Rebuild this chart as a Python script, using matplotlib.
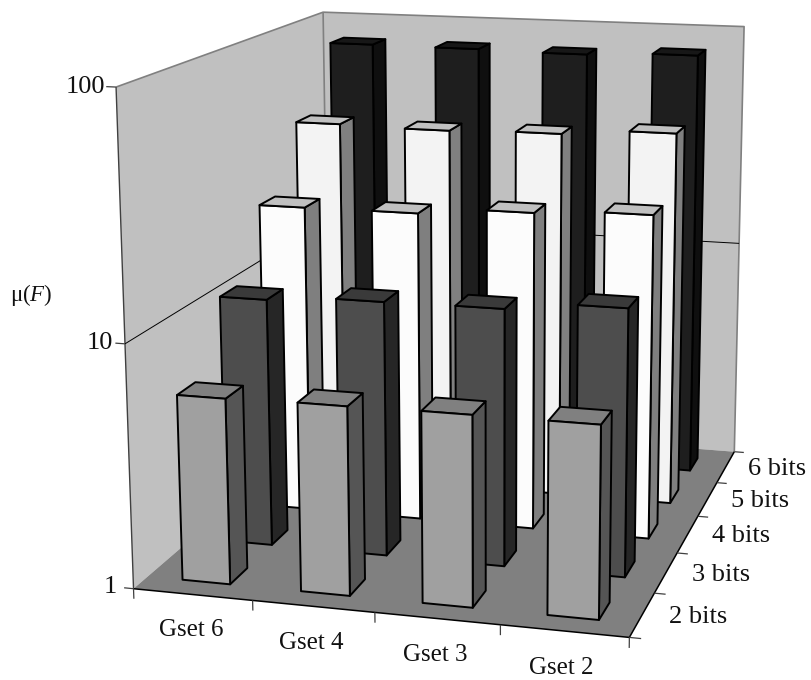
import numpy as np
import matplotlib
matplotlib.use("Agg")
import matplotlib.pyplot as plt
from mpl_toolkits.mplot3d import proj3d
from mpl_toolkits.mplot3d.art3d import Poly3DCollection

plt.rcParams['font.family'] = ['Liberation Serif', 'DejaVu Serif']
plt.rcParams['mathtext.fontset'] = 'custom'
plt.rcParams['mathtext.it'] = 'Liberation Serif:italic'
plt.rcParams['mathtext.rm'] = 'Liberation Serif'

# ---- data -------------------------------------------------------------
gsets = ['Gset 6', 'Gset 4', 'Gset 3', 'Gset 2']
bits = ['2 bits', '3 bits', '4 bits', '5 bits', '6 bits']
mu_2bits = [5.83, 5.92, 5.98, 5.98]
mu_3bits = [11.2, 11.8, 11.9, 12.9]
mu_4bits = [21.7, 21.8, 23.3, 24.3]
mu_5bits = [41.2, 40.6, 41.4, 43.8]
mu_6bits = [80.0, 79.6, 78.5, 81.0]
series = [mu_2bits, mu_3bits, mu_4bits, mu_5bits, mu_6bits]
z_ticks = [1, 10, 100]
z_labels = ['1', '10', '100']
z_label_x = [-0.14, -0.10, -0.085]

# ---- styles (front, right side, top) -----------------------------------
face_colors = [
    ('#a0a0a0', '#555555', '#808080'),
    ('#4d4d4d', '#262626', '#3a3a3a'),
    ('#fcfcfc', '#7f7f7f', '#c0c0c0'),
    ('#f3f3f3', '#808080', '#c0c0c0'),
    ('#1e1e1e', '#0f0f0f', '#171717'),
]
bar_dx = 0.405
bar_dy = 0.40
FS = 18

# ---- camera: calibrated on the chart's box (world x, y, log10 z -> pixel)
W, H = 811, 680
box_world = np.array([
    [0, 0, 0], [4, 0, 0], [4, 5, 0], [0, 5, 0],
    [0, 0, 2], [0, 5, 2], [4, 5, 2], [0, 0, 1], [4, 5, 1]], float)
box_pixel = np.array([
    [132, 589], [630, 637], [734, 452], [331, 420],
    [117, 88], [322, 12], [745, 26], [125, 343], [738, 244]], float)
rows, rhs = [], []
for (X, Y, Z), (u, v) in zip(box_world, box_pixel):
    v = H - v
    rows.append([X, Y, Z, 1, 0, 0, 0, 0, -u * X, -u * Y, -u * Z]); rhs.append(u)
    rows.append([0, 0, 0, 0, X, Y, Z, 1, -v * X, -v * Y, -v * Z]); rhs.append(v)
p = np.linalg.lstsq(np.array(rows), np.array(rhs), rcond=None)[0]
M = np.array([
    [p[0], p[1], p[2], p[3]],
    [p[4], p[5], p[6], p[7]],
    [0, 0, 0, -1.0],
    [p[8], p[9], p[10], 1.0]])

fig = plt.figure(figsize=(W / 100, H / 100), dpi=100, facecolor='white')
ax = fig.add_axes([0, -(W - H) / 2 / H, 1, W / H], projection='3d',
                  computed_zorder=False, proj_type='ortho')
ax.set_axis_off()
ax.set_xticks([])
ax.set_yticks([])
ax.set_zticks([])
ax.get_proj = lambda: M
ax.viewLim.intervalx = (0, W)
ax.viewLim.intervaly = (-(W - H) / 2, H + (W - H) / 2)

nx, ny, zt = len(gsets), len(bits), np.log10(z_ticks[-1])


def flat(verts, color, z):
    ax.add_collection3d(Poly3DCollection([verts], facecolors=color,
                                         edgecolors='none', zorder=z))


flat([(0, 0, 0), (0, ny, 0), (0, ny, zt), (0, 0, zt)], '#c0c0c0', 1)
flat([(0, ny, 0), (nx, ny, 0), (nx, ny, zt), (0, ny, zt)], '#c0c0c0', 1)
flat([(0, 0, 0), (nx, 0, 0), (nx, ny, 0), (0, ny, 0)], '#808080', 2)


def line(xs, ys, zs, c='k', lw=0.8, z=3):
    ax.plot(xs, ys, zs, color=c, lw=lw, zorder=z, solid_capstyle='butt')


def label(x, y, z, s, size=FS, **kw):
    # place the text at the projected position of a point of the 3D box
    u, v, _ = proj3d.proj_transform(x, y, z, M)
    fig.text(float(u) / W, float(v) / H, s, va='center', fontsize=size,
             color='#111111', **kw)


line([0, 0, nx, nx], [0, ny, ny, ny], [zt, zt, zt, 0], '#808080', 1.2)
line([0, 0], [ny, ny], [0, zt], '#808080', 1.2)
line([0, 0], [0, 0], [0, zt], '#404040', 1.0)
line([0, 0, nx], [0, ny, ny], [1, 1, 1], 'k', 0.7)
line([0, nx, nx], [0, 0, ny], [0, 0, 0], 'k', 1.1)

for t, lab, lx in zip(z_ticks, z_labels, z_label_x):
    z = np.log10(t)
    line([-0.08, 0], [0, 0], [z, z], '#404040', 0.9)
    label(lx, 0, z, lab, size=19, ha='right')
for i in range(nx + 1):
    line([i, i], [0, 0], [0, -0.042], '#404040', 0.9)
for j in range(ny + 1):
    line([nx, nx + 0.09], [j, j], [0, 0], '#404040', 0.9)
for i, lab in enumerate(gsets):
    label(i + 0.48, 0, -0.15, lab, ha='center')
for j, lab in enumerate(bits):
    label(nx + 0.21, j + 0.5, 0, lab, size=19, ha='left')

# bars: back row first, and left to right inside each row
none = (0, 0, 0, 0)
black = (0, 0, 0, 1)
order = 10
for j in range(ny - 1, -1, -1):
    front, side, top = face_colors[j]
    for i in range(nx):
        # faces: -Z, +Z, -Y, +Y, -X, +X
        cols = [none, top, front, none, none, side]
        edges = [none, black, black, none, none, black]
        col = ax.bar3d(i + 0.5 - bar_dx / 2, j + 0.5 - bar_dy / 2, 0,
                       bar_dx, bar_dy, np.log10(series[j][i]),
                       color=cols, edgecolors=edges, linewidths=1.4, shade=False)
        col.set_zorder(order)
        order += 1

fig.text(31 / W, 1 - 295 / H, r'μ($\mathit{F}$)', ha='center', va='center',
         fontsize=16.5, color='#111111')

fig.savefig('out.png', dpi=100)
